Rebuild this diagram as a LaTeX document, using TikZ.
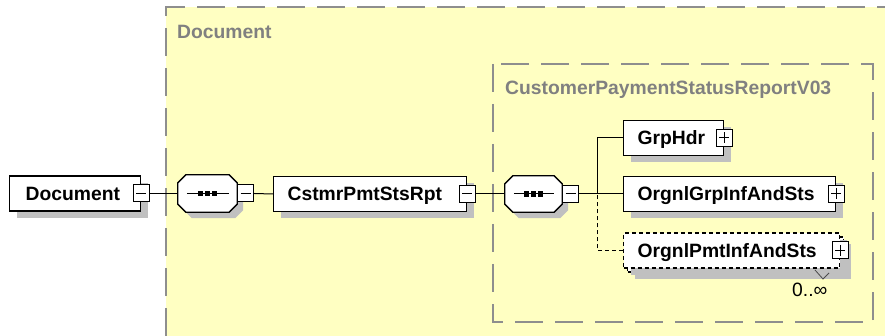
\documentclass[tikz,border=0pt]{standalone}
\usepackage{fontspec}
\setmainfont{Liberation Sans}
\usetikzlibrary{shadows}
\definecolor{docyellow}{HTML}{FFFFC2}
\definecolor{framegray}{HTML}{8E8E8E}
\definecolor{shadowgray}{HTML}{C0C0C0}
\definecolor{labelgray}{HTML}{808080}
\begin{document}
\begin{tikzpicture}[x=1pt,y=-1pt,
  lbl/.style={font=\fontsize{19.3}{23}\selectfont\bfseries, inner sep=0, text height=13.8, text depth=0},
  sh/.style={drop shadow={shadow xshift=7pt, shadow yshift=-7pt, opacity=1, fill=shadowgray}},
  elem/.style={lbl, draw=black, line width=1.3pt, fill=white, rectangle, inner ysep=0,
    minimum height=35, align=left, anchor=west, sh},
  multi/.style={elem, dash pattern=on 4pt off 3pt},
  seqbox/.style={rectangle, draw=none, inner sep=0, minimum width=59, minimum height=37},
  togglebox/.style={draw=black, line width=1pt, fill=white, inner sep=0, minimum width=16, minimum height=17},
  minusbox/.style={togglebox, path picture={\draw[line width=1pt]
    ([xshift=3pt]path picture bounding box.west) -- ([xshift=-3pt]path picture bounding box.east);}},
  plusbox/.style={togglebox, path picture={\draw[line width=1pt]
    ([xshift=3pt]path picture bounding box.west) -- ([xshift=-3pt]path picture bounding box.east)
    ([yshift=-3pt]path picture bounding box.north) -- ([yshift=3pt]path picture bounding box.south);}},
  conn/.style={draw=black, line width=1pt},
  dconn/.style={conn, dash pattern=on 4pt off 3pt},
  frame/.style={draw=framegray, line width=1.6pt, dash pattern=on 28pt off 12pt},
]
\useasboundingbox (0,0) rectangle (885,336);
\fill[white] (0,0) rectangle (885,336);
% outer Document frame
\fill[docyellow] (166,7) rectangle (885,336);
\draw[frame] (166,336) -- (166,7) -- (885,7);
\node[lbl, text=labelgray, anchor=west] (outerlbl) at (177,32) {Document};
% inner frame
\draw[frame] (493,64) rectangle (873,322);
\node[lbl, text=labelgray, anchor=west] (innerlbl) at (505,88) {CustomerPaymentStatusReportV03};

% elements
\node[elem, inner xsep=16, text width=99] (doc) at (9,193.5) {Document};
\node[minusbox] (docm) at (doc.east) {};

\node[seqbox] (seq1) at (207.5,193.5) {};
\node[elem, inner xsep=14, text width=165] (cstmr) at (273,194) {CstmrPmtStsRpt};
\node[minusbox] (cstmrm) at (cstmr.east) {};

\node[seqbox, minimum width=57, minimum height=36] (seq2) at (533.5,194) {};

% sequence symbols (octagons)
\foreach \s in {seq1,seq2}{
  \fill[shadowgray, transform canvas={shift={(6pt,-6pt)}}]
    ([xshift=8pt]\s.north west) -- ([xshift=-8pt]\s.north east) -- ([yshift=-8pt]\s.north east)
    -- ([yshift=8pt]\s.south east) -- ([xshift=-8pt]\s.south east) -- ([xshift=8pt]\s.south west)
    -- ([yshift=8pt]\s.south west) -- ([yshift=-8pt]\s.north west) -- cycle;
  \draw[line width=1.3pt, fill=white]
    ([xshift=8pt]\s.north west) -- ([xshift=-8pt]\s.north east) -- ([yshift=-8pt]\s.north east)
    -- ([yshift=8pt]\s.south east) -- ([xshift=-8pt]\s.south east) -- ([xshift=8pt]\s.south west)
    -- ([yshift=8pt]\s.south west) -- ([yshift=-8pt]\s.north west) -- cycle;
  \draw[line width=1pt] ([xshift=9pt]\s.west) -- ([xshift=-8pt]\s.east);
  \foreach \d in {-7,0,7}
    \fill ([xshift=\d pt]\s.center) +(-2.8,-2.8) rectangle +(2.8,2.8);
}
\node[minusbox, anchor=west] (seq1m) at (seq1.east) {};
\node[minusbox, anchor=west] (seq2m) at (seq2.east) {};

\node[elem, inner xsep=14, text width=72] (grphdr) at (623,138) {GrpHdr};
\node[plusbox] (grphdrp) at (grphdr.east) {};

\node[elem, inner xsep=14, text width=184] (orgrp) at (623,194) {OrgnlGrpInfAndSts};
\node[plusbox] (orgrpp) at (orgrp.east) {};

\node[multi, inner xsep=14, text width=188] (orpmtback) at (627,254.5) {\phantom{OrgnlPmtInfAndSts}};
\node[multi, inner xsep=14, text width=188, drop shadow={opacity=0}] (orpmt) at (623,250.5) {OrgnlPmtInfAndSts};
\node[plusbox] (orpmtp) at (orpmt.east) {};
\draw[line width=0.8pt, black!70] (815,270) -- (823,279) -- (829,273);
\node[font=\fontsize{19.3}{23}\selectfont, inner sep=0, anchor=west] (mult) at (792,290) {0..∞};

% connectors
\coordinate (trunk) at (597,194);
\draw[conn] (docm.east) -- (seq1.west);
\draw[conn] (seq1m.east) -- (cstmr.west);
\draw[conn] (cstmrm.east) -- (seq2.west);
\draw[conn] (seq2m.east) -- (orgrp.west);
\draw[conn] (grphdr.west) -| (trunk);
\draw[dconn] (orpmt.west) -| (trunk);
\end{tikzpicture}
\end{document}
